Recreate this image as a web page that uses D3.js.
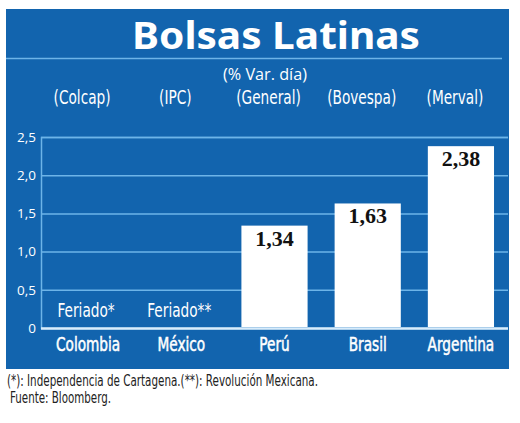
<!DOCTYPE html>
<html><head><meta charset="utf-8">
<script src="https://cdn.jsdelivr.net/npm/d3@7"></script>
<style>
html,body{margin:0;padding:0;background:#fff;}
svg{display:block;}
</style></head>
<body>
<svg id="c" width="520" height="423"></svg>
<script>
const countries = ["Colombia","México","Perú","Brasil","Argentina"];
const indices = ["(Colcap)","(IPC)","(General)","(Bovespa)","(Merval)"];
const values = [null, null, 1.34, 1.63, 2.38];
const valueLabels = ["", "", "1,34", "1,63", "2,38"];
const holidayLabels = ["Feriado*", "Feriado**", "", "", ""];
const yTicks = [0, 0.5, 1.0, 1.5, 2.0, 2.5];
const yTickLabels = ["0", "0,5", "1,0", "1,5", "2,0", "2,5"];
const title = "Bolsas Latinas";
const subtitle = "(% Var. día)";
const footnote1 = "(*): Independencia de Cartagena.(**): Revolución Mexicana.";
const footnote2 = "Fuente: Bloomberg.";

const BLUE = "#1264ae", GRID = "#6db4e8", ZERO = "#d8ecfb";
const cond = "'DejaVu Sans Condensed','DejaVu Sans',sans-serif";
const SX = 0.8;
const svg = d3.select("#c");

function condText(g, data, fx, fy, txt, size, extra){
  const t = g.selectAll("text").data(data).join("text")
    .attr("transform",(d,i)=>`translate(${fx(d,i)},${fy(d,i)}) scale(${SX},1)`)
    .attr("text-anchor","middle").attr("fill","#fff")
    .attr("font-family",cond).attr("font-size",size).text(txt);
  if(extra) extra(t);
  return t;
}

svg.append("rect").attr("x",6).attr("y",9).attr("width",503).attr("height",360).attr("fill",BLUE);

svg.append("text").text(title).attr("x",276).attr("y",49).attr("text-anchor","middle")
  .attr("fill","#fff").attr("font-family","'Noto Sans', sans-serif").attr("font-weight","bold")
  .attr("font-size",38).attr("textLength",288).attr("lengthAdjust","spacingAndGlyphs");
svg.append("line").attr("x1",6).attr("x2",502).attr("y1",58.5).attr("y2",58.5).attr("stroke",GRID).attr("stroke-width",1.5);
svg.append("text").text(subtitle).attr("x",265).attr("y",80).attr("text-anchor","middle")
  .attr("fill","#fff").attr("font-family","'Open Sans', sans-serif").attr("font-size",15.5)
  .attr("textLength",84).attr("lengthAdjust","spacingAndGlyphs");

const x = d3.scaleBand().domain(countries).range([41,508]).paddingInner(0.29).paddingOuter(0.15);
const y = d3.scaleLinear().domain([0,2.5]).range([328,137]);

// index labels
condText(svg.append("g"), countries, d=>x(d)+x.bandwidth()/2-6, ()=>104, (d,i)=>indices[i], 19);

// grid
const yAxis = d3.axisLeft(y).tickValues(yTicks).tickSize(-(508-41)).tickPadding(5)
  .tickFormat((d,i)=>yTickLabels[i]);
const ga = svg.append("g").attr("transform","translate(41,0)").call(yAxis);
ga.select(".domain").attr("stroke",GRID).attr("stroke-width",1.5);
ga.selectAll(".tick line").attr("stroke",d=>d===0?ZERO:GRID).attr("stroke-width",d=>d===0?2.5:1.5);
ga.selectAll(".tick text").attr("fill","#fff").attr("font-family","'Open Sans', sans-serif").attr("font-size",13.5);

// bars
const bars = countries.map((c,i)=>({c, v:values[i], lab:valueLabels[i]})).filter(d=>d.v!=null);
svg.append("g").selectAll("rect").data(bars).join("rect")
  .attr("x",d=>x(d.c)).attr("width",x.bandwidth()).attr("y",d=>y(d.v)).attr("height",d=>y(0)-y(d.v)-1)
  .attr("fill","#fff");
svg.append("g").selectAll("text").data(bars).join("text")
  .attr("x",d=>x(d.c)+x.bandwidth()/2).attr("y",d=>y(d.v)+20).attr("text-anchor","middle")
  .attr("fill","#111").attr("font-family","'Liberation Serif', serif").attr("font-weight","bold").attr("font-size",22)
  .text(d=>d.lab);

// holidays
const hol = countries.filter((c,i)=>holidayLabels[i]);
condText(svg.append("g"), hol, d=>x(d)+x.bandwidth()/2-2, ()=>317, d=>holidayLabels[countries.indexOf(d)], 19);

// category labels
condText(svg.append("g"), countries, d=>x(d)+x.bandwidth()/2, ()=>351, d=>d, 19,
  t=>t.attr("stroke","#fff").attr("stroke-width",0.5));

svg.append("text").text(footnote1).attr("x",7).attr("y",386).attr("fill","#222")
  .attr("font-family",cond).attr("font-size",15).attr("textLength",311).attr("lengthAdjust","spacingAndGlyphs");
svg.append("text").text(footnote2).attr("x",10).attr("y",403).attr("fill","#222")
  .attr("font-family",cond).attr("font-size",15).attr("textLength",101).attr("lengthAdjust","spacingAndGlyphs");
</script>
</body></html>
